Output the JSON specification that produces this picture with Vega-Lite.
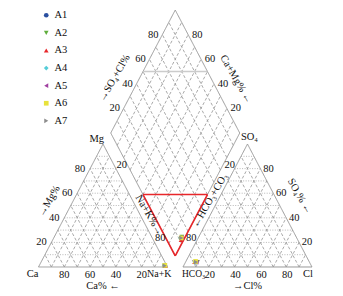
{
"$schema":"https://vega.github.io/schema/vega-lite/v6.json",
"width":343,"height":296,"padding":0,
"autosize":{"type":"fit","contains":"padding"},
"background":"white",
"config":{"font":"Liberation Serif","view":{"stroke":null},"text":{"font":"Liberation Serif","fontSize":10.5,"color":"#111"}},
"datasets":{
 "k":[{"k":0},{"k":10},{"k":20},{"k":30},{"k":40},{"k":50},{"k":60},{"k":70},{"k":80},{"k":90},{"k":100}],
 "labels":[
  {"label":"Ca","sys":"cation","p":0,"q":0,"grp":1},
  {"label":"Na+K","sys":"cation","p":100,"q":0,"grp":2},
  {"label":"HCO₃","sys":"anion","p":0,"q":0,"grp":3},
  {"label":"Cl","sys":"anion","p":100,"q":0,"grp":4},
  {"label":"Mg","sys":"cation","p":0,"q":100,"grp":5},
  {"label":"SO₄","sys":"anion","p":0,"q":100,"grp":6},
  {"label":"Ca% ←","sys":"cation","p":50,"q":0,"grp":7},
  {"label":"→Cl%","sys":"anion","p":50,"q":0,"grp":7},
  {"label":"→Mg%","sys":"cation","p":0,"q":50,"grp":8},
  {"label":"→SO₄+Cl%","sys":"diamond","p":100,"q":50,"grp":12},
  {"label":"SO₄% ←","sys":"anion","p":50,"q":50,"grp":9},
  {"label":"Ca+Mg% ←","sys":"diamond","p":50,"q":100,"grp":13},
  {"label":"Na+K%→","sys":"diamond","p":50,"q":0,"grp":10},
  {"label":"←HCO₃+CO₃","sys":"diamond","p":0,"q":50,"grp":11}
 ],
 "samples":[
  {"sample":"A1","Ca":1.5,"Mg":1.0,"NaK":97.5,"HCO3":88.0,"Cl":8.0,"SO4":4.0},
  {"sample":"A2","Ca":1.8,"Mg":0.9,"NaK":97.3,"HCO3":87.0,"Cl":9.0,"SO4":4.0},
  {"sample":"A3","Ca":1.2,"Mg":0.8,"NaK":98.0,"HCO3":89.0,"Cl":7.0,"SO4":4.0},
  {"sample":"A4","Ca":2.0,"Mg":1.2,"NaK":96.8,"HCO3":88.5,"Cl":7.5,"SO4":4.0},
  {"sample":"A5","Ca":1.6,"Mg":1.1,"NaK":97.3,"HCO3":87.5,"Cl":8.5,"SO4":4.0},
  {"sample":"A6","Ca":1.4,"Mg":1.3,"NaK":97.3,"HCO3":88.0,"Cl":7.5,"SO4":4.5},
  {"sample":"A7","Ca":1.7,"Mg":1.0,"NaK":97.3,"HCO3":88.0,"Cl":8.0,"SO4":4.0}
 ]
},
"encoding":{
 "x":{"field":"x","type":"quantitative","scale":{"domain":[-29.845,236.047],"nice":false,"zero":false},"axis":null},
 "y":{"field":"y","type":"quantitative","scale":{"domain":[-20.423,188.028],"nice":false,"zero":false},"axis":null}
},
"layer":[
 {"data":{"name":"k"},"transform":[{"filter":"datum.k<100"},{"calculate":"datum.k/2","as":"x"},{"calculate":"datum.k*0.8660254","as":"y"},{"calculate":"100-datum.k/2","as":"x2"},{"calculate":"datum.y","as":"y2"},{"calculate":"datum.k==0?'edge':'dot'","as":"sty"}],
  "mark":{"type":"rule","color":"#999999"},
  "encoding":{"x2":{"field":"x2"},"y2":{"field":"y2"},
   "strokeDash":{"field":"sty","type":"nominal","scale":{"domain":["edge","dash","dot"],"range":[[1,0],[3,2],[1,1.5]]},"legend":null},
   "strokeWidth":{"field":"sty","type":"nominal","scale":{"domain":["edge","dash","dot"],"range":[1,0.7,0.8]},"legend":null}}},
 {"data":{"name":"k"},"transform":[{"filter":"datum.k<100"},{"calculate":"100-datum.k","as":"x"},{"calculate":"0","as":"y"},{"calculate":"(100-datum.k)/2","as":"x2"},{"calculate":"(100-datum.k)*0.8660254","as":"y2"},{"calculate":"datum.k==0?'edge':'dash'","as":"sty"}],
  "mark":{"type":"rule","color":"#999999"},
  "encoding":{"x2":{"field":"x2"},"y2":{"field":"y2"},
   "strokeDash":{"field":"sty","type":"nominal","scale":{"domain":["edge","dash","dot"],"range":[[1,0],[3,2],[1,1.5]]},"legend":null},
   "strokeWidth":{"field":"sty","type":"nominal","scale":{"domain":["edge","dash","dot"],"range":[1,0.7,0.8]},"legend":null}}},
 {"data":{"name":"k"},"transform":[{"filter":"datum.k<100"},{"calculate":"datum.k","as":"x"},{"calculate":"0","as":"y"},{"calculate":"50+datum.k/2","as":"x2"},{"calculate":"(100-datum.k)*0.8660254","as":"y2"},{"calculate":"datum.k==0?'edge':'dash'","as":"sty"}],
  "mark":{"type":"rule","color":"#999999"},
  "encoding":{"x2":{"field":"x2"},"y2":{"field":"y2"},
   "strokeDash":{"field":"sty","type":"nominal","scale":{"domain":["edge","dash","dot"],"range":[[1,0],[3,2],[1,1.5]]},"legend":null},
   "strokeWidth":{"field":"sty","type":"nominal","scale":{"domain":["edge","dash","dot"],"range":[1,0.7,0.8]},"legend":null}}},
 {"data":{"name":"k"},"transform":[{"filter":"datum.k<100"},{"calculate":"112+datum.k/2","as":"x"},{"calculate":"datum.k*0.8660254","as":"y"},{"calculate":"212-datum.k/2","as":"x2"},{"calculate":"datum.y","as":"y2"},{"calculate":"datum.k==0?'edge':'dot'","as":"sty"}],
  "mark":{"type":"rule","color":"#999999"},
  "encoding":{"x2":{"field":"x2"},"y2":{"field":"y2"},
   "strokeDash":{"field":"sty","type":"nominal","scale":{"domain":["edge","dash","dot"],"range":[[1,0],[3,2],[1,1.5]]},"legend":null},
   "strokeWidth":{"field":"sty","type":"nominal","scale":{"domain":["edge","dash","dot"],"range":[1,0.7,0.8]},"legend":null}}},
 {"data":{"name":"k"},"transform":[{"filter":"datum.k<100"},{"calculate":"212-datum.k","as":"x"},{"calculate":"0","as":"y"},{"calculate":"162-datum.k/2","as":"x2"},{"calculate":"(100-datum.k)*0.8660254","as":"y2"},{"calculate":"datum.k==0?'edge':'dash'","as":"sty"}],
  "mark":{"type":"rule","color":"#999999"},
  "encoding":{"x2":{"field":"x2"},"y2":{"field":"y2"},
   "strokeDash":{"field":"sty","type":"nominal","scale":{"domain":["edge","dash","dot"],"range":[[1,0],[3,2],[1,1.5]]},"legend":null},
   "strokeWidth":{"field":"sty","type":"nominal","scale":{"domain":["edge","dash","dot"],"range":[1,0.7,0.8]},"legend":null}}},
 {"data":{"name":"k"},"transform":[{"filter":"datum.k<100"},{"calculate":"112+datum.k","as":"x"},{"calculate":"0","as":"y"},{"calculate":"162+datum.k/2","as":"x2"},{"calculate":"(100-datum.k)*0.8660254","as":"y2"},{"calculate":"datum.k==0?'edge':'dash'","as":"sty"}],
  "mark":{"type":"rule","color":"#999999"},
  "encoding":{"x2":{"field":"x2"},"y2":{"field":"y2"},
   "strokeDash":{"field":"sty","type":"nominal","scale":{"domain":["edge","dash","dot"],"range":[[1,0],[3,2],[1,1.5]]},"legend":null},
   "strokeWidth":{"field":"sty","type":"nominal","scale":{"domain":["edge","dash","dot"],"range":[1,0.7,0.8]},"legend":null}}},
 {"data":{"name":"k"},"transform":[{"calculate":"106-datum.k/2","as":"x"},{"calculate":"7.75+datum.k*0.8660254","as":"y"},{"calculate":"156-datum.k/2","as":"x2"},{"calculate":"7.75+(datum.k+100)*0.8660254","as":"y2"},{"calculate":"(datum.k==0||datum.k==100)?'edge':'dash'","as":"sty"}],
  "mark":{"type":"rule","color":"#999999"},
  "encoding":{"x2":{"field":"x2"},"y2":{"field":"y2"},
   "strokeDash":{"field":"sty","type":"nominal","scale":{"domain":["edge","dash","dot"],"range":[[1,0],[3,2],[1,1.5]]},"legend":null},
   "strokeWidth":{"field":"sty","type":"nominal","scale":{"domain":["edge","dash","dot"],"range":[1,0.7,0.8]},"legend":null}}},
 {"data":{"name":"k"},"transform":[{"calculate":"106+datum.k/2","as":"x"},{"calculate":"7.75+datum.k*0.8660254","as":"y"},{"calculate":"56+datum.k/2","as":"x2"},{"calculate":"7.75+(datum.k+100)*0.8660254","as":"y2"},{"calculate":"(datum.k==0||datum.k==100)?'edge':'dash'","as":"sty"}],
  "mark":{"type":"rule","color":"#999999"},
  "encoding":{"x2":{"field":"x2"},"y2":{"field":"y2"},
   "strokeDash":{"field":"sty","type":"nominal","scale":{"domain":["edge","dash","dot"],"range":[[1,0],[3,2],[1,1.5]]},"legend":null},
   "strokeWidth":{"field":"sty","type":"nominal","scale":{"domain":["edge","dash","dot"],"range":[1,0.7,0.8]},"legend":null}}},
 {"data":{"values":[{"c1":100,"s1":50,"c2":50,"s2":100}]},
  "transform":[{"calculate":"106+(datum.s1-datum.c1)/2","as":"x"},{"calculate":"7.75+(datum.c1+datum.s1)*0.8660254","as":"y"},{"calculate":"106+(datum.s2-datum.c2)/2","as":"x2"},{"calculate":"7.75+(datum.c2+datum.s2)*0.8660254","as":"y2"}],
  "mark":{"type":"rule","color":"#cccccc","strokeWidth":1.5},
  "encoding":{"x2":{"field":"x2"},"y2":{"field":"y2"}}},
 {"data":{"values":[{"c1":50,"s1":0,"c2":0,"s2":50},{"c1":0,"s1":50,"c2":0,"s2":0},{"c1":0,"s1":0,"c2":50,"s2":0}]},
  "transform":[{"calculate":"106+(datum.s1-datum.c1)/2","as":"x"},{"calculate":"7.75+(datum.c1+datum.s1)*0.8660254","as":"y"},{"calculate":"106+(datum.s2-datum.c2)/2","as":"x2"},{"calculate":"7.75+(datum.c2+datum.s2)*0.8660254","as":"y2"}],
  "mark":{"type":"rule","color":"#e8262a","strokeWidth":1.6},
  "encoding":{"x2":{"field":"x2"},"y2":{"field":"y2"}}},
 {"data":{"name":"k"},"transform":[{"filter":"datum.k>0 && datum.k<100 && datum.k%20==0"},{"calculate":"100-datum.k","as":"x"},{"calculate":"0","as":"y"}],
  "mark":{"type":"text","dy":8,"baseline":"middle","font":"Liberation Serif","fontSize":10.5},"encoding":{"text":{"field":"k","type":"nominal"}}},
 {"data":{"name":"k"},"transform":[{"filter":"datum.k>0 && datum.k<100 && datum.k%20==0"},{"calculate":"datum.k/2","as":"x"},{"calculate":"datum.k*0.8660254","as":"y"}],
  "mark":{"type":"text","dx":-10,"baseline":"middle","font":"Liberation Serif","fontSize":10.5},"encoding":{"text":{"field":"k","type":"nominal"}}},
 {"data":{"name":"k"},"transform":[{"filter":"datum.k>0 && datum.k<100 && datum.k%20==0"},{"calculate":"112+datum.k","as":"x"},{"calculate":"0","as":"y"}],
  "mark":{"type":"text","dy":8,"dx":1,"baseline":"middle","font":"Liberation Serif","fontSize":10.5},"encoding":{"text":{"field":"k","type":"nominal"}}},
 {"data":{"name":"k"},"transform":[{"filter":"datum.k>0 && datum.k<100 && datum.k%20==0"},{"calculate":"212-datum.k/2","as":"x"},{"calculate":"datum.k*0.8660254","as":"y"}],
  "mark":{"type":"text","dx":8,"baseline":"middle","font":"Liberation Serif","fontSize":10.5},"encoding":{"text":{"field":"k","type":"nominal"}}},
 {"data":{"name":"k"},"transform":[{"filter":"datum.k>0 && datum.k<100 && datum.k%20==0"},{"calculate":"56+datum.k/2","as":"x"},{"calculate":"7.75+(100+datum.k)*0.8660254","as":"y"}],
  "mark":{"type":"text","dx":-9,"baseline":"middle","font":"Liberation Serif","fontSize":10.5},"encoding":{"text":{"field":"k","type":"nominal"}}},
 {"data":{"name":"k"},"transform":[{"filter":"datum.k>0 && datum.k<100 && datum.k%20==0"},{"calculate":"156-datum.k/2","as":"x"},{"calculate":"7.75+(100+datum.k)*0.8660254","as":"y"}],
  "mark":{"type":"text","dx":9,"baseline":"middle","font":"Liberation Serif","fontSize":10.5},"encoding":{"text":{"field":"k","type":"nominal"}}},
 {"data":{"name":"k"},"transform":[{"filter":"datum.k==20 || datum.k==80"},{"calculate":"56+datum.k/2","as":"x"},{"calculate":"7.75+(100-datum.k)*0.8660254","as":"y"}],
  "mark":{"type":"text","dx":-2,"dy":7,"baseline":"middle","font":"Liberation Serif","fontSize":10.5},"encoding":{"text":{"field":"k","type":"nominal"}}},
 {"data":{"name":"k"},"transform":[{"filter":"datum.k==20 || datum.k==80"},{"calculate":"156-datum.k/2","as":"x"},{"calculate":"7.75+(100-datum.k)*0.8660254","as":"y"}],
  "mark":{"type":"text","dx":3,"dy":7,"baseline":"middle","font":"Liberation Serif","fontSize":10.5},"encoding":{"text":{"field":"k","type":"nominal"}}},
 {"data":{"name":"labels"},"transform":[{"filter":"datum.grp==1"},{"calculate":"datum.sys=='diamond' ? 106+(datum.q-datum.p)/2 : (datum.sys=='anion'?112:0)+datum.p+datum.q/2","as":"x"},{"calculate":"datum.sys=='diamond' ? 7.75+(datum.p+datum.q)*0.8660254 : datum.q*0.8660254","as":"y"}],
  "mark":{"type":"text","align":"center","baseline":"middle","dx":-6,"dy":7,"font":"Liberation Serif","fontSize":10.5},"encoding":{"text":{"field":"label"}}},
 {"data":{"name":"labels"},"transform":[{"filter":"datum.grp==2"},{"calculate":"datum.sys=='diamond' ? 106+(datum.q-datum.p)/2 : (datum.sys=='anion'?112:0)+datum.p+datum.q/2","as":"x"},{"calculate":"datum.sys=='diamond' ? 7.75+(datum.p+datum.q)*0.8660254 : datum.q*0.8660254","as":"y"}],
  "mark":{"type":"text","align":"right","baseline":"middle","dx":4,"dy":7,"font":"Liberation Serif","fontSize":10},"encoding":{"text":{"field":"label"}}},
 {"data":{"name":"labels"},"transform":[{"filter":"datum.grp==3"},{"calculate":"datum.sys=='diamond' ? 106+(datum.q-datum.p)/2 : (datum.sys=='anion'?112:0)+datum.p+datum.q/2","as":"x"},{"calculate":"datum.sys=='diamond' ? 7.75+(datum.p+datum.q)*0.8660254 : datum.q*0.8660254","as":"y"}],
  "mark":{"type":"text","align":"left","baseline":"middle","dx":-1,"dy":7,"font":"Liberation Serif","fontSize":9.5},"encoding":{"text":{"field":"label"}}},
 {"data":{"name":"labels"},"transform":[{"filter":"datum.grp==4"},{"calculate":"datum.sys=='diamond' ? 106+(datum.q-datum.p)/2 : (datum.sys=='anion'?112:0)+datum.p+datum.q/2","as":"x"},{"calculate":"datum.sys=='diamond' ? 7.75+(datum.p+datum.q)*0.8660254 : datum.q*0.8660254","as":"y"}],
  "mark":{"type":"text","align":"center","baseline":"middle","dx":-4,"dy":7,"font":"Liberation Serif","fontSize":10.5},"encoding":{"text":{"field":"label"}}},
 {"data":{"name":"labels"},"transform":[{"filter":"datum.grp==5"},{"calculate":"datum.sys=='diamond' ? 106+(datum.q-datum.p)/2 : (datum.sys=='anion'?112:0)+datum.p+datum.q/2","as":"x"},{"calculate":"datum.sys=='diamond' ? 7.75+(datum.p+datum.q)*0.8660254 : datum.q*0.8660254","as":"y"}],
  "mark":{"type":"text","align":"right","baseline":"alphabetic","dx":1,"dy":-2,"font":"Liberation Serif","fontSize":10.5},"encoding":{"text":{"field":"label"}}},
 {"data":{"name":"labels"},"transform":[{"filter":"datum.grp==6"},{"calculate":"datum.sys=='diamond' ? 106+(datum.q-datum.p)/2 : (datum.sys=='anion'?112:0)+datum.p+datum.q/2","as":"x"},{"calculate":"datum.sys=='diamond' ? 7.75+(datum.p+datum.q)*0.8660254 : datum.q*0.8660254","as":"y"}],
  "mark":{"type":"text","align":"center","baseline":"alphabetic","dx":2,"dy":-4,"font":"Liberation Serif","fontSize":10.5},"encoding":{"text":{"field":"label"}}},
 {"data":{"name":"labels"},"transform":[{"filter":"datum.grp==7"},{"calculate":"datum.sys=='diamond' ? 106+(datum.q-datum.p)/2 : (datum.sys=='anion'?112:0)+datum.p+datum.q/2","as":"x"},{"calculate":"datum.sys=='diamond' ? 7.75+(datum.p+datum.q)*0.8660254 : datum.q*0.8660254","as":"y"}],
  "mark":{"type":"text","align":"center","baseline":"middle","dy":19,"font":"Liberation Serif","fontSize":10.5},"encoding":{"text":{"field":"label"}}},
 {"data":{"name":"labels"},"transform":[{"filter":"datum.grp==8"},{"calculate":"datum.sys=='diamond' ? 106+(datum.q-datum.p)/2 : (datum.sys=='anion'?112:0)+datum.p+datum.q/2","as":"x"},{"calculate":"datum.sys=='diamond' ? 7.75+(datum.p+datum.q)*0.8660254 : datum.q*0.8660254","as":"y"}],
  "mark":{"type":"text","align":"center","baseline":"middle","angle":-60,"dy":-21,"dx":-7,"font":"Liberation Serif","fontSize":10.5},"encoding":{"text":{"field":"label"}}},
 {"data":{"name":"labels"},"transform":[{"filter":"datum.grp==12"},{"calculate":"datum.sys=='diamond' ? 106+(datum.q-datum.p)/2 : (datum.sys=='anion'?112:0)+datum.p+datum.q/2","as":"x"},{"calculate":"datum.sys=='diamond' ? 7.75+(datum.p+datum.q)*0.8660254 : datum.q*0.8660254","as":"y"}],
  "mark":{"type":"text","align":"center","baseline":"middle","angle":-60,"dy":-21.5,"dx":-20,"font":"Liberation Serif","fontSize":10.5},"encoding":{"text":{"field":"label"}}},
 {"data":{"name":"labels"},"transform":[{"filter":"datum.grp==9"},{"calculate":"datum.sys=='diamond' ? 106+(datum.q-datum.p)/2 : (datum.sys=='anion'?112:0)+datum.p+datum.q/2","as":"x"},{"calculate":"datum.sys=='diamond' ? 7.75+(datum.p+datum.q)*0.8660254 : datum.q*0.8660254","as":"y"}],
  "mark":{"type":"text","align":"center","baseline":"middle","angle":60,"dy":-22,"dx":2,"font":"Liberation Serif","fontSize":10.5},"encoding":{"text":{"field":"label"}}},
 {"data":{"name":"labels"},"transform":[{"filter":"datum.grp==13"},{"calculate":"datum.sys=='diamond' ? 106+(datum.q-datum.p)/2 : (datum.sys=='anion'?112:0)+datum.p+datum.q/2","as":"x"},{"calculate":"datum.sys=='diamond' ? 7.75+(datum.p+datum.q)*0.8660254 : datum.q*0.8660254","as":"y"}],
  "mark":{"type":"text","align":"center","baseline":"middle","angle":60,"dy":-21,"dx":21,"font":"Liberation Serif","fontSize":10.5},"encoding":{"text":{"field":"label"}}},
 {"data":{"name":"labels"},"transform":[{"filter":"datum.grp==10"},{"calculate":"datum.sys=='diamond' ? 106+(datum.q-datum.p)/2 : (datum.sys=='anion'?112:0)+datum.p+datum.q/2","as":"x"},{"calculate":"datum.sys=='diamond' ? 7.75+(datum.p+datum.q)*0.8660254 : datum.q*0.8660254","as":"y"}],
  "mark":{"type":"text","align":"center","baseline":"middle","angle":60,"dy":5,"dx":21,"font":"Liberation Serif","fontSize":10.5},"encoding":{"text":{"field":"label"}}},
 {"data":{"name":"labels"},"transform":[{"filter":"datum.grp==11"},{"calculate":"datum.sys=='diamond' ? 106+(datum.q-datum.p)/2 : (datum.sys=='anion'?112:0)+datum.p+datum.q/2","as":"x"},{"calculate":"datum.sys=='diamond' ? 7.75+(datum.p+datum.q)*0.8660254 : datum.q*0.8660254","as":"y"}],
  "mark":{"type":"text","align":"center","baseline":"middle","angle":-60,"dy":5,"dx":-4,"font":"Liberation Serif","fontSize":10.5},"encoding":{"text":{"field":"label"}}},
 {"data":{"name":"samples"},"transform":[{"calculate":"datum.NaK+datum.Mg/2","as":"x"},{"calculate":"datum.Mg*0.8660254","as":"y"}],
  "mark":{"type":"point","filled":true,"size":22,"opacity":1},
  "encoding":{
   "color":{"field":"sample","type":"nominal","scale":{"domain":["A1","A2","A3","A4","A5","A6","A7"],"range":["#2a4fa0","#5fae3c","#e8262a","#55cdd8","#a040a0","#e8e23c","#8c8c8c"]},"legend":{"title":null,"orient":"none","legendX":41,"legendY":10,"labelFont":"Liberation Serif","labelFontSize":10.5,"labelColor":"#111","symbolSize":22,"rowPadding":6.6,"labelOffset":3}},
   "shape":{"field":"sample","type":"nominal","scale":{"domain":["A1","A2","A3","A4","A5","A6","A7"],"range":["circle","triangle-down","triangle-up","diamond","triangle-left","square","triangle-right"]},"legend":{"title":null,"orient":"none","legendX":41,"legendY":10,"labelFont":"Liberation Serif","labelFontSize":10.5,"labelColor":"#111","symbolSize":22,"rowPadding":6.6,"labelOffset":3}}}},
 {"data":{"name":"samples"},"transform":[{"calculate":"112+datum.Cl+datum.SO4/2","as":"x"},{"calculate":"datum.SO4*0.8660254","as":"y"}],
  "mark":{"type":"point","filled":true,"size":22,"opacity":1},
  "encoding":{
   "color":{"field":"sample","type":"nominal","scale":{"domain":["A1","A2","A3","A4","A5","A6","A7"],"range":["#2a4fa0","#5fae3c","#e8262a","#55cdd8","#a040a0","#e8e23c","#8c8c8c"]},"legend":{"title":null,"orient":"none","legendX":41,"legendY":10,"labelFont":"Liberation Serif","labelFontSize":10.5,"labelColor":"#111","symbolSize":22,"rowPadding":6.6,"labelOffset":3}},
   "shape":{"field":"sample","type":"nominal","scale":{"domain":["A1","A2","A3","A4","A5","A6","A7"],"range":["circle","triangle-down","triangle-up","diamond","triangle-left","square","triangle-right"]},"legend":{"title":null,"orient":"none","legendX":41,"legendY":10,"labelFont":"Liberation Serif","labelFontSize":10.5,"labelColor":"#111","symbolSize":22,"rowPadding":6.6,"labelOffset":3}}}},
 {"data":{"name":"samples"},"transform":[{"calculate":"106+((datum.Cl+datum.SO4)-(datum.Ca+datum.Mg))/2","as":"x"},{"calculate":"7.75+(datum.Ca+datum.Mg+datum.Cl+datum.SO4)*0.8660254","as":"y"}],
  "mark":{"type":"point","filled":true,"size":22,"opacity":1},
  "encoding":{
   "color":{"field":"sample","type":"nominal","scale":{"domain":["A1","A2","A3","A4","A5","A6","A7"],"range":["#2a4fa0","#5fae3c","#e8262a","#55cdd8","#a040a0","#e8e23c","#8c8c8c"]},"legend":{"title":null,"orient":"none","legendX":41,"legendY":10,"labelFont":"Liberation Serif","labelFontSize":10.5,"labelColor":"#111","symbolSize":22,"rowPadding":6.6,"labelOffset":3}},
   "shape":{"field":"sample","type":"nominal","scale":{"domain":["A1","A2","A3","A4","A5","A6","A7"],"range":["circle","triangle-down","triangle-up","diamond","triangle-left","square","triangle-right"]},"legend":{"title":null,"orient":"none","legendX":41,"legendY":10,"labelFont":"Liberation Serif","labelFontSize":10.5,"labelColor":"#111","symbolSize":22,"rowPadding":6.6,"labelOffset":3}}}}
]
}
